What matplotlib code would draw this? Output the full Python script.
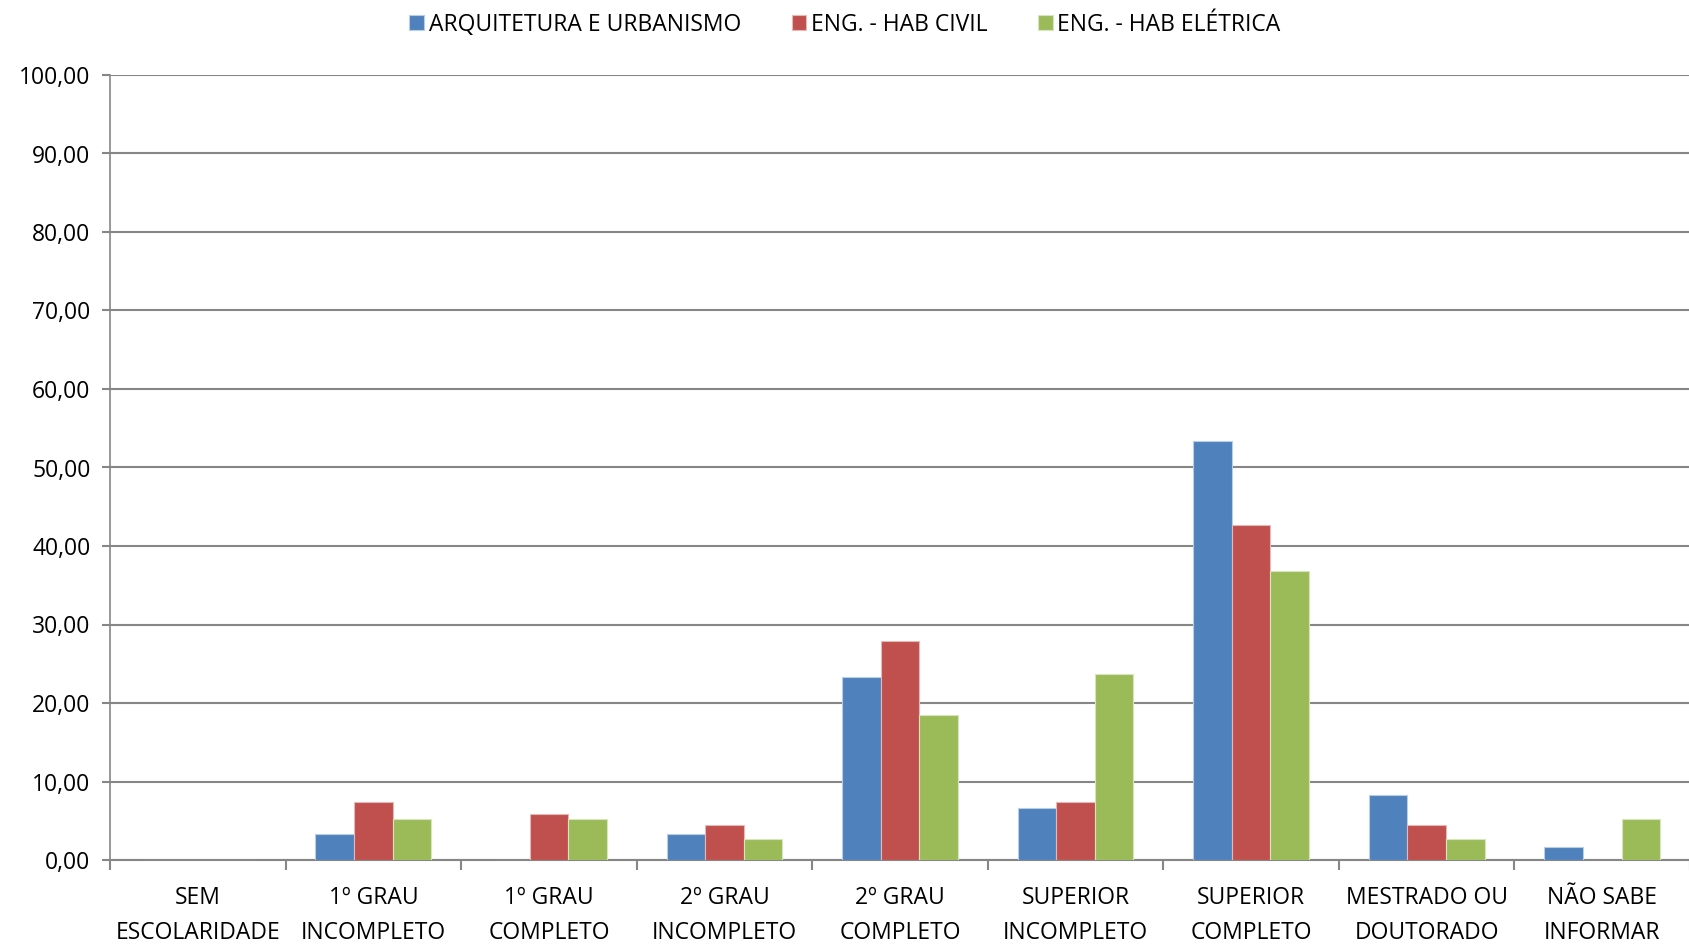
import numpy as np
import matplotlib
matplotlib.use('Agg')
import matplotlib.pyplot as plt
import matplotlib.ticker as ticker
from matplotlib import rcParams

rcParams['font.family'] = ['Open Sans', 'DejaVu Sans']

categories = ['SEM\nESCOLARIDADE', '1º GRAU\nINCOMPLETO', '1º GRAU\nCOMPLETO',
              '2º GRAU\nINCOMPLETO', '2º GRAU\nCOMPLETO', 'SUPERIOR\nINCOMPLETO',
              'SUPERIOR\nCOMPLETO', 'MESTRADO OU\nDOUTORADO', 'NÃO SABE\nINFORMAR']
series_names = ['ARQUITETURA E URBANISMO', 'ENG. - HAB CIVIL', 'ENG. - HAB ELÉTRICA']
arquitetura = [0.00, 3.33, 0.00, 3.33, 23.33, 6.67, 53.33, 8.33, 1.67]
eng_civil = [0.00, 7.35, 5.88, 4.41, 27.94, 7.35, 42.65, 4.41, 0.00]
eng_eletrica = [0.00, 5.26, 5.26, 2.63, 18.42, 23.68, 36.84, 2.63, 5.26]
colors = ['#4F81BD', '#C0504D', '#9BBB59']
edges = ['#B9CDE5', '#E6B9B8', '#D7E4BD']

fig = plt.figure(figsize=(16.9, 9.47), dpi=100)
ax = fig.add_axes([110 / 1690, 1 - 860 / 947, 1580 / 1690, 785 / 947])

x = np.arange(len(categories))
w = 0.22
for i, vals in enumerate([arquitetura, eng_civil, eng_eletrica]):
    ax.bar(x + (i - 1) * w, vals, width=w, color=colors[i], edgecolor=edges[i],
           linewidth=0.8, label=series_names[i], zorder=3)

ax.set_xlim(-0.5, len(categories) - 0.5)
ax.set_ylim(0, 100)
ax.set_yticks(np.arange(0, 101, 10))
ax.yaxis.set_major_formatter(ticker.FuncFormatter(lambda v, p: '{:.2f}'.format(v).replace('.', ',')))
ax.grid(axis='y', color='#868686', linewidth=1.5, zorder=0)

ax.set_xticks(x)
ax.set_xticklabels(categories, fontsize=16.5, linespacing=1.6)
ax.set_xticks(np.arange(-0.5, len(categories), 1), minor=True)
ax.tick_params(axis='x', which='major', length=0, pad=19)
ax.tick_params(axis='x', which='minor', length=7, width=1.5, color='#868686')
ax.tick_params(axis='y', length=6, width=1.5, color='#868686', labelsize=16.5, pad=8)

for s in ['top', 'right']:
    ax.spines[s].set_visible(False)
ax.spines['left'].set_color('#868686')
ax.spines['left'].set_linewidth(1.2)
ax.spines['bottom'].set_color('#868686')
ax.spines['bottom'].set_linewidth(1.5)

fig.legend(loc='upper center', bbox_to_anchor=(0.5, 1.0), ncol=3, frameon=False,
           fontsize=16.5, handlelength=0.65, handleheight=0.65, handletextpad=0.2,
           columnspacing=2.2, borderaxespad=0.15)

fig.savefig('out.png', dpi=100)
